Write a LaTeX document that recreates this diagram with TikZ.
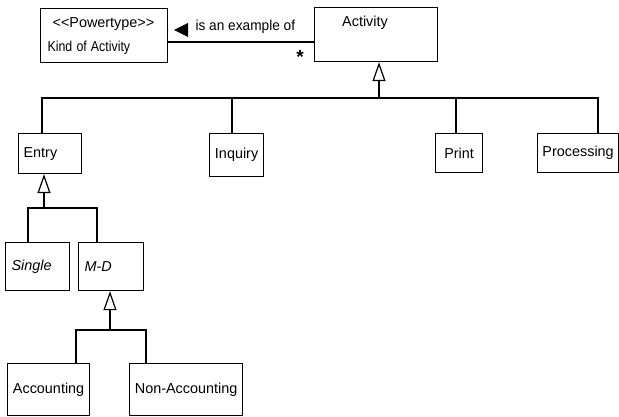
\documentclass[tikz,border=0pt]{standalone}
\usepackage{fontspec}
\setmainfont{Liberation Sans}
\usetikzlibrary{arrows.meta}
\begin{document}
\begin{tikzpicture}[x=1pt,y=-1pt,
  every node/.style={font=\fontsize{14.4}{16}\selectfont},
  cls/.style={draw, line width=1.2pt, rectangle, anchor=north west, inner ysep=3pt},
  lbox/.style={cls, align=left, inner xsep=5pt},
  cbox/.style={cls, align=center, inner xsep=3pt},
  link/.style={line width=1.2pt},
  gen/.style={link, -{Triangle[open,length=19pt,width=13pt,line width=1.2pt]}},
]
\useasboundingbox (0,0) rectangle (619,417);

% classes
\node[lbox, minimum width=127pt, minimum height=54pt, text width=113pt,
      inner xsep=7pt, font=\fontsize{14.4}{24}\selectfont] (kind) at (40,8)
  {\hspace*{5pt}\textless\kern0pt\textless\kern0pt Powertype\kern0pt\textgreater\kern0pt\textgreater\\
   \scalebox{0.86}[1]{Kind of Activity}};
\node[cls, minimum width=123pt, minimum height=54pt] (activity) at (314,7) {};
\node (activity-name) at (365,23) {Activity};

\node[lbox, minimum width=63pt, minimum height=40pt, text width=53pt] (entry) at (18,133) {Entry};
\node[cbox, minimum width=54pt, minimum height=43pt] (inquiry) at (209,133) {Inquiry};
\node[cbox, minimum width=47pt, minimum height=39pt] (print) at (435,133) {Print};
\node[cbox, minimum width=81pt, minimum height=39pt] (processing) at (537,133) {Processing};

\node[lbox, minimum width=64pt, minimum height=48pt, text width=52pt, inner xsep=6pt,
      font=\fontsize{14.4}{16}\selectfont\itshape] (single) at (5,242) {Single};
\node[lbox, minimum width=65pt, minimum height=48pt, text width=53pt, inner xsep=6pt,
      font=\fontsize{14.4}{16}\selectfont\itshape] (md) at (78,242) {M-D};

\node[cbox, minimum width=82pt, minimum height=52pt] (accounting) at (7,363) {Accounting};
\node[cbox, minimum width=113pt, minimum height=52pt] (nonaccounting) at (129,363) {Non-Accounting};

% association with its name and multiplicity
\draw[link] (kind.east |- 0,42) -- (activity.west |- 0,42);
\fill (174,30) -- (188,23) -- (188,37) -- cycle;
\node[anchor=west] (assoc-name) at (192,27) {\scalebox{0.95}[1]{is an example of}};
\node[font=\fontsize{19}{19}\selectfont\bfseries] (mult) at (300,57) {*};

% generalization: Activity
\coordinate (a-j) at (379,98);
\coordinate (a-l) at (42,98);
\coordinate (a-r) at (598,98);
\coordinate (a-inq) at (232,98);
\coordinate (a-prt) at (456,98);
\draw[gen] (a-j) -- (activity.south -| a-j);
\draw[link] (entry.north -| a-l) -- (a-l) -- (a-r) -- (processing.north -| a-r);
\draw[link] (a-inq) -- (inquiry.north -| a-inq);
\draw[link] (a-prt) -- (print.north -| a-prt);

% generalization: Entry
\coordinate (e-j) at (44,208);
\coordinate (e-l) at (28,208);
\coordinate (e-r) at (97,208);
\draw[gen] (e-j) -- (entry.south -| e-j);
\draw[link] (single.north -| e-l) -- (e-l) -- (e-r) -- (md.north -| e-r);

% generalization: M-D
\coordinate (m-j) at (110,330);
\coordinate (m-l) at (76,330);
\coordinate (m-r) at (146,330);
\draw[gen] (m-j) -- (md.south -| m-j);
\draw[link] (accounting.north -| m-l) -- (m-l) -- (m-r) -- (nonaccounting.north -| m-r);
\end{tikzpicture}
\end{document}
